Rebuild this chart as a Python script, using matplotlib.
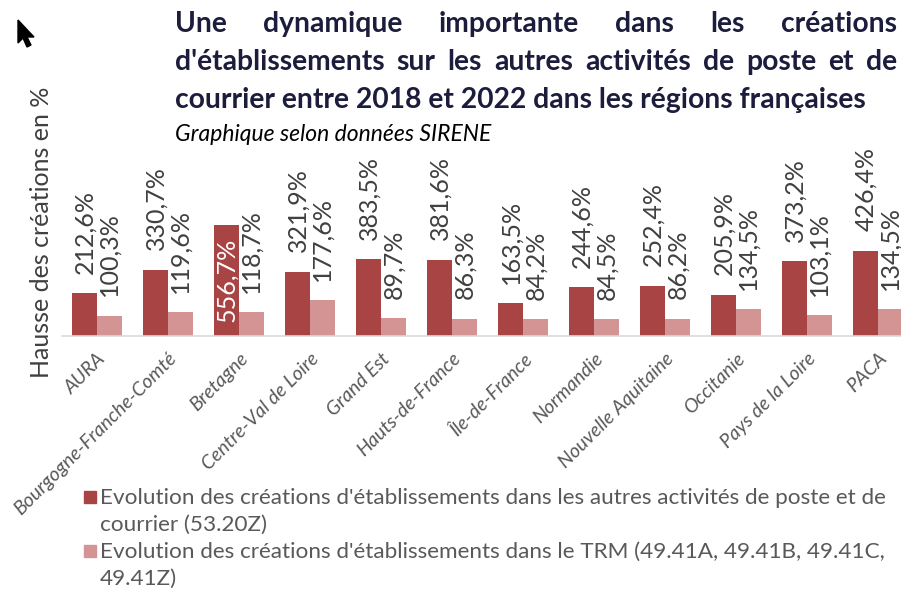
import matplotlib
matplotlib.use('Agg')
import matplotlib.pyplot as plt
from matplotlib.patches import Rectangle, Polygon
import numpy as np

plt.rcParams['font.family'] = ['Lato', 'DejaVu Sans']

regions = ["AURA", "Bourgogne-Franche-Comté", "Bretagne", "Centre-Val de Loire",
           "Grand Est", "Hauts-de-France", "Île-de-France", "Normandie",
           "Nouvelle Aquitaine", "Occitanie", "Pays de la Loire", "PACA"]
poste = [212.6, 330.7, 556.7, 321.9, 383.5, 381.6, 163.5, 244.6, 252.4, 205.9, 373.2, 426.4]
trm = [100.3, 119.6, 118.7, 177.6, 89.7, 86.3, 84.2, 84.5, 86.2, 134.5, 103.1, 134.5]
series_labels = [
    ["Evolution des créations d'établissements dans les autres activités de poste et de",
     "courrier (53.20Z)"],
    ["Evolution des créations d'établissements dans le TRM (49.41A, 49.41B, 49.41C,",
     "49.41Z)"],
]
title_lines = ["Une dynamique importante dans les créations",
               "d'établissements sur les autres activités de poste et de",
               "courrier entre 2018 et 2022 dans les régions françaises"]
subtitle = "Graphique selon données SIRENE"
ylabel = "Hausse des créations en %"

DARK = '#a84444'
LIGHT = '#d49494'
TITLE_C = '#1c1c3c'
TXT = '#404040'
GREY = '#595959'

W, H = 901, 589
fig = plt.figure(figsize=(W / 100, H / 100), dpi=100)


def fx(px):
    return px / W


def fy(py):
    return 1 - py / H


ax = fig.add_axes([fx(61.5), fy(336), (913.5 - 61.5) / W, 196 / H])
x = np.arange(len(regions))
w = 0.35
ax.bar(x - w / 2, poste, w, color=DARK)
ax.bar(x + w / 2, trm, w, color=LIGHT)
ax.set_xlim(-0.5, len(regions) - 0.5)
ax.set_ylim(0, 980)
for s in ['top', 'right', 'left']:
    ax.spines[s].set_visible(False)
ax.spines['bottom'].set_color('#d9d9d9')
ax.spines['bottom'].set_linewidth(1.2)
ax.set_yticks([])
ax.set_xticks(x)
ax.set_xticklabels(regions, rotation=45, ha='right', rotation_mode='anchor',
                   fontstyle='italic', color=GREY, fontsize=14)
ax.tick_params(axis='x', length=0, pad=10)


def fmt(v):
    return f"{v:.1f}".replace('.', ',') + '%'


LBL_FS = 18
for i in range(len(regions)):
    v = poste[i]
    if v > 500:
        ax.text(x[i] - w / 2, v / 2, fmt(v), rotation=90, ha='center', va='center',
                color='white', fontsize=LBL_FS)
    else:
        ax.annotate(fmt(v), (x[i] - w / 2, v), xytext=(0, 14), textcoords='offset points',
                    rotation=90, ha='center', va='bottom', color=TXT, fontsize=LBL_FS)
    v2 = trm[i]
    ax.annotate(fmt(v2), (x[i] + w / 2, v2), xytext=(0, 14), textcoords='offset points',
                rotation=90, ha='center', va='bottom', color=TXT, fontsize=LBL_FS)

fig.text(fx(42), fy(232), ylabel, rotation=90, ha='center', va='center',
         fontsize=18, color=TXT)

renderer = fig.canvas.get_renderer()
TFS = 20.3


def justify(line, ybase, x0, x1, **kw):
    words = line.split(' ')
    texts = [fig.text(0, fy(ybase), wd, va='baseline', ha='left', **kw) for wd in words]
    widths = [t.get_window_extent(renderer).width for t in texts]
    gap = (x1 - x0 - sum(widths)) / (len(words) - 1)
    pos = x0
    for t, wd in zip(texts, widths):
        t.set_x(fx(pos))
        pos += wd + gap


justify(title_lines[0], 32, 175, 897, fontsize=TFS, fontweight='bold', color=TITLE_C)
justify(title_lines[1], 70, 175, 897, fontsize=TFS, fontweight='bold', color=TITLE_C)
fig.text(fx(175), fy(108), title_lines[2], va='baseline', ha='left', fontsize=TFS,
         fontweight='bold', color=TITLE_C)
fig.text(fx(175), fy(141), subtitle, va='baseline', ha='left', fontsize=16.5,
         fontstyle='italic', color='black')

# legend
LFS = 16.2
for k, (lines, col) in enumerate(zip(series_labels, [DARK, LIGHT])):
    y0 = 503 + k * 54
    fig.patches.append(Rectangle((fx(84), fy(y0)), 12 / W, 12 / H, color=col,
                                 transform=fig.transFigure, figure=fig))
    fig.text(fx(100), fy(y0 + 1), lines[0], va='baseline', ha='left', fontsize=LFS, color=GREY)
    fig.text(fx(100), fy(y0 + 28), lines[1], va='baseline', ha='left', fontsize=LFS, color=GREY)

# mouse cursor from screenshot
cur = [(18, 20), (18, 43), (23, 38), (27, 47), (31, 45), (27, 37), (34, 37)]
fig.patches.append(Polygon([(fx(a), fy(b)) for a, b in cur], closed=True, color='black',
                           transform=fig.transFigure, figure=fig))

fig.savefig('out.png', dpi=100)
